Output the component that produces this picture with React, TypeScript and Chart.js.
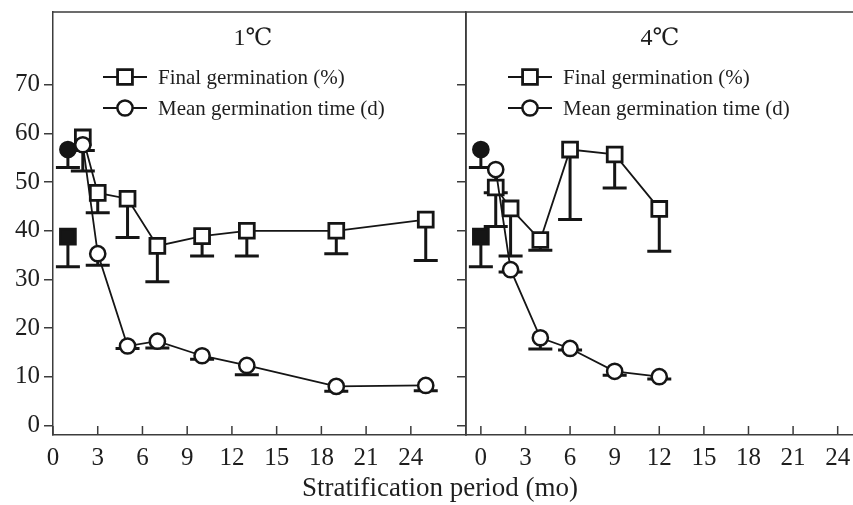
import React, { useEffect, useRef } from "react";
import { Chart, registerables } from "chart.js";

Chart.register(...registerables);

const FONT = "'Liberation Serif', 'DejaVu Serif', 'Times New Roman', serif";
const INK = "#151515";
const FRAME = "#3c3c3c";

// Shared tick values
const monthTicks = [0, 3, 6, 9, 12, 15, 18, 21, 24];
const valueTicks = [0, 10, 20, 30, 40, 50, 60, 70];

// Untreated control seeds (filled markers)
const controlGerm = 38.8;
const controlGermLow = 32.6;
const controlMgt = 56.7;
const controlMgtLow = 53.0;

// 1 ℃ stratification
const months1 = [2, 3, 5, 7, 10, 13, 19, 25];
const germ1 = [59.2, 47.8, 46.6, 36.9, 38.9, 40.0, 40.0, 42.3];
const germ1Low = [52.3, 43.7, 38.6, 29.5, 34.8, 34.8, 35.3, 33.9];
const mgt1 = [57.7, 35.3, 16.3, 17.3, 14.3, 12.3, 8.0, 8.2];
const mgt1Low = [56.5, 32.9, 15.8, 15.9, 13.6, 10.4, 7.0, 7.1];

// 4 ℃ stratification
const months4 = [1, 2, 4, 6, 9, 12];
const germ4 = [48.9, 44.6, 38.1, 56.7, 55.7, 44.5];
const germ4Low = [40.9, 34.8, 36.0, 42.3, 48.8, 35.8];
const mgt4 = [52.6, 32.0, 18.0, 15.8, 11.1, 10.0];
const mgt4Low = [47.8, 31.5, 15.7, 15.5, 10.3, 9.5];

const legendLabels = ["Final germination (%)", "Mean germination time (d)"];
const axisTitle = "Stratification period (mo)";

const W = 853;
const H = 505;
const SQUARE_R = 10.5;
const CIRCLE_R = 7.6;

type PanelOpts = {
  title: string;
  titleX: number;
  legendX: number;
  rightBorder: boolean;
  axisTitle?: string;
};

function marker(ctx: CanvasRenderingContext2D, style: string, x: number, y: number, fill: string) {
  ctx.save();
  ctx.fillStyle = fill;
  ctx.strokeStyle = INK;
  ctx.beginPath();
  if (style === "rect") {
    const s = Math.SQRT1_2 * SQUARE_R;
    ctx.lineWidth = 2.8;
    ctx.rect(x - s, y - s, 2 * s, 2 * s);
  } else {
    ctx.lineWidth = 2.5;
    ctx.arc(x, y, CIRCLE_R, 0, Math.PI * 2);
  }
  ctx.fill();
  ctx.stroke();
  ctx.restore();
}

// keep the plot area exactly where the layout padding puts it
function noScalePadding(s: any) {
  s.paddingTop = 0;
  s.paddingBottom = 0;
  s.paddingLeft = 0;
  s.paddingRight = 0;
}

const panelPlugin = {
  id: "panel",
  beforeDatasetsDraw(chart: any, _args: any, opts: PanelOpts) {
    const { ctx, chartArea: a } = chart;
    const xs = chart.scales.x;
    const ys = chart.scales.y;
    ctx.save();
    // frame: top edge and (optionally) right edge
    ctx.strokeStyle = FRAME;
    ctx.lineWidth = 1.5;
    ctx.beginPath();
    ctx.moveTo(a.left, a.top);
    ctx.lineTo(a.right, a.top);
    if (opts.rightBorder) {
      ctx.moveTo(a.right, a.top);
      ctx.lineTo(a.right, a.bottom);
    }
    ctx.stroke();
    // inward tick marks on the month axis
    ctx.beginPath();
    xs.ticks.forEach((t: any) => {
      const px = xs.getPixelForValue(t.value);
      ctx.moveTo(px, a.bottom);
      ctx.lineTo(px, a.bottom - 9);
    });
    ctx.stroke();
    // lower error bars with caps
    ctx.strokeStyle = INK;
    ctx.lineWidth = 3;
    ctx.lineCap = "butt";
    chart.data.datasets.forEach((ds: any, i: number) => {
      const low: number[] | undefined = ds.errLow;
      if (!low) return;
      const meta = chart.getDatasetMeta(i);
      meta.data.forEach((pt: any, j: number) => {
        const yl = ys.getPixelForValue(low[j]);
        ctx.beginPath();
        ctx.moveTo(pt.x, pt.y);
        ctx.lineTo(pt.x, yl);
        ctx.moveTo(pt.x - 12, yl);
        ctx.lineTo(pt.x + 12, yl);
        ctx.stroke();
      });
    });
    ctx.restore();
  },
  afterDraw(chart: any, _args: any, opts: PanelOpts) {
    const { ctx } = chart;
    ctx.save();
    ctx.fillStyle = "#1e1e1e";
    ctx.textBaseline = "middle";
    ctx.textAlign = "center";
    ctx.font = `24px ${FONT}`;
    ctx.fillText(opts.title, opts.titleX, 39);

    // legend: line + marker + label
    const rows = [
      { style: "rect", y: 77 },
      { style: "circle", y: 108 },
    ];
    rows.forEach((r, i) => {
      ctx.strokeStyle = INK;
      ctx.lineWidth = 2;
      ctx.beginPath();
      ctx.moveTo(opts.legendX, r.y);
      ctx.lineTo(opts.legendX + 44, r.y);
      ctx.stroke();
      marker(ctx, r.style, opts.legendX + 22, r.y, "#ffffff");
      ctx.fillStyle = "#1e1e1e";
      ctx.textAlign = "left";
      ctx.font = `21px ${FONT}`;
      ctx.fillText(legendLabels[i], opts.legendX + 55, r.y + 1);
    });

    if (opts.axisTitle) {
      ctx.textAlign = "center";
      ctx.font = `27px ${FONT}`;
      ctx.fillText(opts.axisTitle, 440, 489);
    }
    ctx.restore();
  },
};

function makeConfig(
  months: number[],
  germ: number[],
  germLow: number[],
  mgt: number[],
  mgtLow: number[],
  controlX: number,
  xMin: number,
  xMax: number,
  left: boolean,
  panel: PanelOpts
): any {
  const pts = (xs: number[], ys: number[]) => xs.map((x, i) => ({ x, y: ys[i] }));
  const line = {
    borderColor: INK,
    borderWidth: 1.8,
    pointBorderColor: INK,
    pointBackgroundColor: "#ffffff",
    pointHoverRadius: 0,
    showLine: true,
  };
  return {
    type: "line",
    data: {
      datasets: [
        {
          ...line,
          label: legendLabels[1],
          data: pts(months, mgt),
          errLow: mgtLow,
          pointStyle: "circle",
          pointRadius: CIRCLE_R,
          pointBorderWidth: 2.5,
        },
        {
          ...line,
          label: legendLabels[0],
          data: pts(months, germ),
          errLow: germLow,
          pointStyle: "rect",
          pointRadius: SQUARE_R,
          pointBorderWidth: 2.8,
        },
        {
          ...line,
          showLine: false,
          label: "control MGT",
          data: [{ x: controlX, y: controlMgt }],
          errLow: [controlMgtLow],
          pointStyle: "circle",
          pointRadius: CIRCLE_R,
          pointBorderWidth: 2.5,
          pointBackgroundColor: INK,
        },
        {
          ...line,
          showLine: false,
          label: "control germination",
          data: [{ x: controlX, y: controlGerm }],
          errLow: [controlGermLow],
          pointStyle: "rect",
          pointRadius: SQUARE_R,
          pointBorderWidth: 2.8,
          pointBackgroundColor: INK,
        },
      ],
    },
    options: {
      responsive: false,
      animation: false,
      events: [],
      layout: {
        autoPadding: false,
        padding: left
          ? { left: 0, right: W - 466, top: 12, bottom: 0 }
          : { left: 457, right: 0, top: 12, bottom: 0 },
      },
      plugins: {
        legend: { display: false },
        tooltip: { enabled: false },
        panel,
      },
      scales: {
        x: {
          type: "linear",
          min: xMin,
          max: xMax,
          afterBuildTicks: (s: any) => {
            s.ticks = monthTicks.map((v) => ({ value: v }));
          },
          afterFit: (s: any) => {
            s.height = 70;
            noScalePadding(s);
          },
          grid: { display: false, drawTicks: false },
          border: { display: true, color: FRAME, width: 1.5 },
          ticks: {
            autoSkip: false,
            maxRotation: 0,
            padding: 8,
            color: "#1e1e1e",
            font: { family: FONT, size: 25 },
          },
        },
        y: {
          type: "linear",
          min: -2,
          max: 85,
          afterBuildTicks: (s: any) => {
            s.ticks = valueTicks.map((v) => ({ value: v }));
          },
          afterFit: (s: any) => {
            s.width = left ? 53 : 9;
            noScalePadding(s);
          },
          grid: {
            display: true,
            drawOnChartArea: false,
            drawTicks: true,
            tickLength: 9,
            color: FRAME,
            lineWidth: 1.5,
          },
          border: { display: true, color: FRAME, width: 1.5 },
          ticks: {
            display: left,
            padding: 4,
            color: "#1e1e1e",
            font: { family: FONT, size: 25 },
          },
        },
      },
    },
    plugins: [panelPlugin],
  };
}

export default function App() {
  const leftRef = useRef<HTMLCanvasElement>(null);
  const rightRef = useRef<HTMLCanvasElement>(null);

  useEffect(() => {
    const c1 = new Chart(
      leftRef.current!,
      makeConfig(months1, germ1, germ1Low, mgt1, mgt1Low, 1, 0, 27.7, true, {
        title: "1℃",
        titleX: 253,
        legendX: 103,
        rightBorder: true,
        axisTitle,
      })
    );
    const c2 = new Chart(
      rightRef.current!,
      makeConfig(months4, germ4, germ4Low, mgt4, mgt4Low, 0, -1, 25.03, false, {
        title: "4℃",
        titleX: 660,
        legendX: 508,
        rightBorder: false,
      })
    );
    return () => {
      c1.destroy();
      c2.destroy();
    };
  }, []);

  const canvasStyle: React.CSSProperties = {
    position: "absolute",
    left: 0,
    top: 0,
    width: W,
    height: H,
  };

  return (
    <div style={{ position: "absolute", left: 0, top: 0, width: W, height: H, background: "#ffffff", overflow: "hidden" }}>
      <canvas ref={leftRef} width={W} height={H} style={canvasStyle} />
      <canvas ref={rightRef} width={W} height={H} style={canvasStyle} />
    </div>
  );
}
